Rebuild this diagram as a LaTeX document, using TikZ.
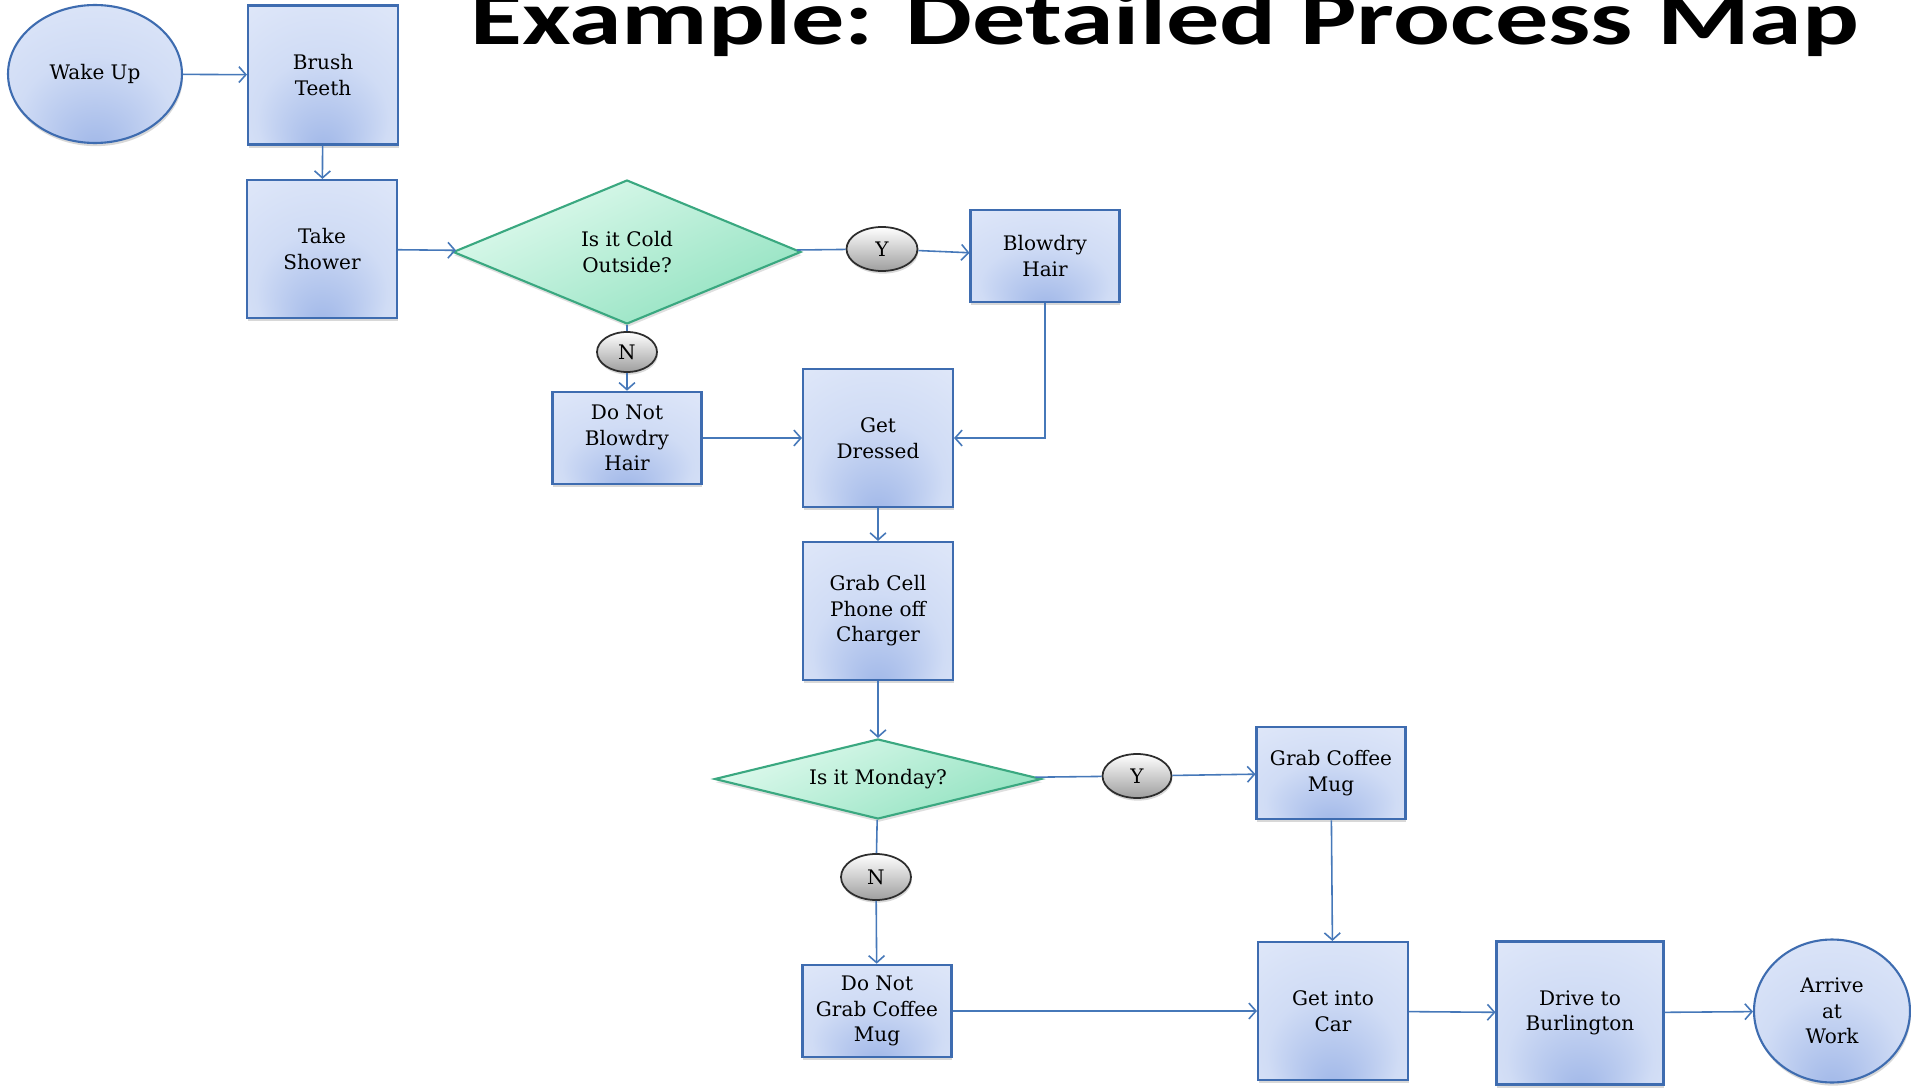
\documentclass[tikz,border=0pt]{standalone}
\usepackage{fontspec}
\setmainfont{DejaVu Serif}
\newfontfamily\titlefont{Carlito}
\usetikzlibrary{shapes.geometric,arrows.meta,shadows}

\definecolor{flowline}{RGB}{70,120,185}
\definecolor{boxedge}{RGB}{62,108,176}
\definecolor{boxlight}{RGB}{231,237,251}
\definecolor{boxmid}{RGB}{208,220,245}
\definecolor{boxdark}{RGB}{160,183,232}
\definecolor{decedge}{RGB}{58,168,128}
\definecolor{declight}{RGB}{224,250,238}
\definecolor{decdark}{RGB}{145,226,192}
\definecolor{ansedge}{RGB}{45,45,45}

\pgfdeclareradialshading{boxglow}{\pgfpoint{0bp}{-28bp}}{color(0bp)=(boxdark); color(22bp)=(boxmid); color(50bp)=(boxlight)}

\begin{document}
\begin{tikzpicture}[
    x=0.02cm, y=-0.02cm,
    every node/.style={font=\fontsize{11.4}{14.5}\selectfont, align=center},
    glow/.style={draw=boxedge, line width=1.2pt, shading=boxglow,
      drop shadow={opacity=0.3, shadow xshift=0.5pt, shadow yshift=-1.8pt}},
    tallbox/.style={glow, rectangle, minimum width=3cm, minimum height=2.76cm, inner sep=2pt},
    flatbox/.style={glow, rectangle, minimum width=2.98cm, minimum height=1.85cm, inner sep=2pt},
    terminal/.style={glow, ellipse, minimum width=3.48cm, minimum height=2.76cm, inner sep=0pt},
    decision/.style={diamond, draw=decedge, line width=1.2pt, top color=declight,
      bottom color=decdark, shading angle=25, inner sep=0pt,
      drop shadow={opacity=0.25, shadow xshift=0.5pt, shadow yshift=-1.8pt}},
    answer/.style={ellipse, draw=ansedge, line width=1pt, top color=white, bottom color=black!38,
      minimum width=1.42cm, minimum height=0.88cm, inner sep=0pt,
      drop shadow={opacity=0.3, shadow xshift=0.5pt, shadow yshift=-1.5pt}},
    link/.style={draw=flowline, line width=0.9pt},
    flow/.style={link, -{Straight Barb[length=4pt, width=9pt]}}
  ]
  \fill[white] (0,0) rectangle (1911,1088);
  \useasboundingbox (0,0) rectangle (1911,1088);

  \node[anchor=base west, inner sep=0pt, font=\titlefont\bfseries\fontsize{43.8}{50}\selectfont]
    (title) at (470,45) {\scalebox{1.38}[1]{Example: Detailed Process Map}};

  % morning
  \node[terminal] (wake) at (95,74) {Wake Up};
  \node[tallbox, minimum height=2.78cm] (brush) at (323,75) {Brush\\Teeth};
  \node[tallbox] (shower) at (322,249) {Take\\Shower};
  \node[decision, aspect=2.4, minimum width=6.96cm, minimum height=2.88cm] (cold) at (627,252) {Is it Cold\\Outside?};
  \node[answer] (yes1) at (882,249) {Y};
  \node[flatbox] (blowdry) at (1045,256) {Blowdry\\Hair};
  \node[answer, minimum width=1.2cm, minimum height=0.8cm] (no1) at (627,352) {N};
  \node[flatbox] (skipdry) at (627,438) {Do Not\\Blowdry\\Hair};
  \node[tallbox] (dressed) at (878,438) {Get\\Dressed};
  \node[tallbox] (phone) at (878,611) {Grab Cell\\Phone off\\Charger};

  % leaving
  \node[decision, aspect=4.1, minimum width=6.54cm, minimum height=1.6cm] (monday) at (878,779) {Is it Monday?};
  \node[answer, minimum width=1.38cm] (yes2) at (1137,776) {Y};
  \node[flatbox] (mug) at (1331,773) {Grab Coffee\\Mug};
  \node[answer, minimum width=1.4cm, minimum height=0.92cm] (no2) at (876,877) {N};
  \node[flatbox] (skipmug) at (877,1011) {Do Not\\Grab Coffee\\Mug};
  \node[tallbox] (car) at (1333,1011) {Get into\\Car};
  \node[tallbox, minimum width=3.34cm, minimum height=2.86cm] (drive) at (1580,1013) {Drive to\\Burlington};
  \node[terminal, minimum width=3.12cm, minimum height=2.86cm] (work) at (1832,1011) {Arrive\\at\\Work};

  \draw[flow] (wake) -- (brush);
  \draw[flow] (brush) -- (shower);
  \draw[flow] (shower) -- (cold);
  \draw[link] (cold) -- (yes1);
  \draw[flow] (yes1) -- (blowdry);
  \draw[link] (cold) -- (no1);
  \draw[flow] (no1) -- (skipdry);
  \draw[flow] (skipdry) -- (dressed);
  \draw[flow] (blowdry) |- (dressed);
  \draw[flow] (dressed) -- (phone);
  \draw[flow] (phone) -- (monday);
  \draw[link] (monday) -- (yes2);
  \draw[flow] (yes2) -- (mug);
  \draw[link] (monday) -- (no2);
  \draw[flow] (no2) -- (skipmug);
  \draw[flow] (mug) -- (car);
  \draw[flow] (skipmug) -- (car);
  \draw[flow] (car) -- (drive);
  \draw[flow] (drive) -- (work);
\end{tikzpicture}
\end{document}
